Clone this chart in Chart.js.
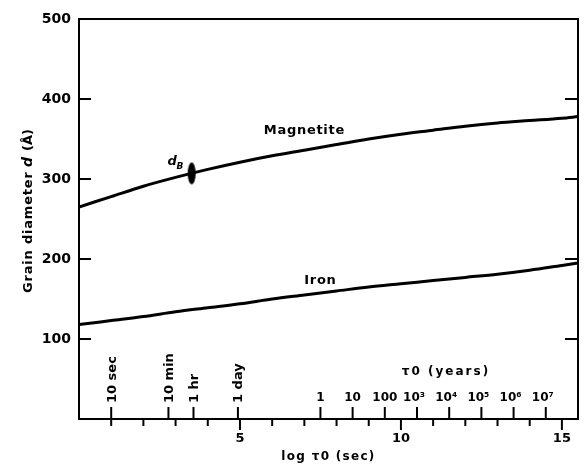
<!DOCTYPE html>
<html>
<head>
<meta charset="utf-8">
<script src="https://cdn.jsdelivr.net/npm/chart.js@4/dist/chart.umd.min.js"></script>
<style>
  html, body { margin: 0; padding: 0; background: #fff; overflow: hidden; }
  canvas { display: block; }
</style>
</head>
<body>
<canvas id="grainChart" width="584" height="467"></canvas>
<script>
// log tau0 (sec) and grain diameter (A)
const logTau    = [0,   1,   2,   3,   4,   5,   6,   7,   8,   9,   10,  11,  12,  13,  14,  15,  15.5];
const magnetite = [265, 278, 291, 302, 312, 321, 329, 336, 343, 350, 356, 361, 366, 370, 373, 376, 378];
const iron      = [118, 123, 128, 134, 139, 144, 150, 155, 160, 165, 169, 173, 177, 181, 186, 192, 195];

const yTicks = [100, 200, 300, 400, 500];
const xTicks = [5, 10, 15];

// extra time marks along the bottom axis
const timeLabels  = ['10 sec', '10 min', '1 hr', '1 day'];
const timeSeconds = [10, 600, 3600, 86400];
const yearLabels  = ['1', '10', '100', '10³', '10⁴', '10⁵', '10⁶', '10⁷'];
const yearValues  = [1, 10, 100, 1e3, 1e4, 1e5, 1e6, 1e7];
const SEC_PER_YEAR = 3.156e7;

const dbMarker = { x: 3.5, y: 307 };
const labelMagnetite = { x: 7.0, y: 360 };
const labelIron = { x: 7.5, y: 173 };
const labelDb = { x: 2.75, y: 317 };

const FONT = '"DejaVu Sans", sans-serif';

// ellipse symbol for the d_B mark
const ellipse = document.createElement('canvas');
ellipse.width = 10; ellipse.height = 24;
(function () {
  const c = ellipse.getContext('2d');
  c.fillStyle = '#000';
  c.beginPath();
  c.ellipse(5, 12, 4, 11, 0, 0, Math.PI * 2);
  c.fill();
})();

const framePlugin = {
  id: 'frame',
  afterDraw(chart) {
    const ctx = chart.ctx, xs = chart.scales.x, ys = chart.scales.y;
    const { left, right, top, bottom } = chart.chartArea;
    ctx.save();
    ctx.strokeStyle = '#000';
    ctx.fillStyle = '#000';
    ctx.lineWidth = 2;
    ctx.strokeRect(left, top, right - left, bottom - top);

    // inward y ticks on both sides
    yTicks.forEach(v => {
      if (v >= 500) return;
      const py = ys.getPixelForValue(v);
      ctx.beginPath();
      ctx.moveTo(left, py); ctx.lineTo(left + 12, py);
      ctx.moveTo(right, py); ctx.lineTo(right - 13, py);
      ctx.stroke();
    });

    // integer ticks below the axis
    for (let v = 1; v <= 15; v++) {
      const px = xs.getPixelForValue(v);
      ctx.beginPath();
      ctx.moveTo(px, bottom);
      ctx.lineTo(px, bottom + (v % 5 === 0 ? 11 : 7));
      ctx.stroke();
    }

    // time marks above the axis
    ctx.font = 'bold 13px ' + FONT;
    ctx.textBaseline = 'middle';
    ctx.textAlign = 'left';
    timeSeconds.forEach((s, i) => {
      const px = xs.getPixelForValue(Math.log10(s));
      ctx.beginPath();
      ctx.moveTo(px, bottom); ctx.lineTo(px, bottom - 12);
      ctx.stroke();
      ctx.save();
      ctx.translate(px, bottom - 16);
      ctx.rotate(-Math.PI / 2);
      ctx.fillText(timeLabels[i], 0, 1);
      ctx.restore();
    });

    ctx.font = 'bold 12px ' + FONT;
    ctx.textAlign = 'center';
    ctx.textBaseline = 'alphabetic';
    yearValues.forEach((yr, i) => {
      const px = xs.getPixelForValue(Math.log10(yr * SEC_PER_YEAR));
      ctx.beginPath();
      ctx.moveTo(px, bottom); ctx.lineTo(px, bottom - 12);
      ctx.stroke();
      const shift = yr >= 1000 ? -3 : 0;
      ctx.fillText(yearLabels[i], px + shift, bottom - 18);
    });

    ctx.letterSpacing = '2px';
    ctx.font = 'bold 12px ' + FONT;
    ctx.textBaseline = 'middle';
    ctx.fillText('τ0 (years)', 446, 372);

    // x axis title
    ctx.letterSpacing = '1.3px';
    ctx.fillText('log τ0 (sec)', (left + right) / 2, 457);

    // curve labels
    ctx.letterSpacing = '0.7px';
    ctx.font = 'bold 13px ' + FONT;
    ctx.fillText('Magnetite', xs.getPixelForValue(labelMagnetite.x), ys.getPixelForValue(labelMagnetite.y));
    ctx.fillText('Iron', xs.getPixelForValue(labelIron.x), ys.getPixelForValue(labelIron.y));

    ctx.letterSpacing = '0px';
    const dx = xs.getPixelForValue(labelDb.x), dy = ys.getPixelForValue(labelDb.y);
    ctx.textAlign = 'left';
    ctx.textBaseline = 'alphabetic';
    ctx.font = 'italic bold 13px ' + FONT;
    ctx.fillText('d', dx, dy);
    ctx.font = 'italic bold 9px ' + FONT;
    ctx.fillText('B', dx + 9, dy + 4);

    // y axis title
    ctx.save();
    ctx.translate(32, 293);
    ctx.rotate(-Math.PI / 2);
    ctx.letterSpacing = '0.8px';
    ctx.font = 'bold 13px ' + FONT;
    ctx.fillText('Grain diameter', 0, 0);
    ctx.font = 'italic bold 14px ' + FONT;
    ctx.letterSpacing = '0px';
    ctx.fillText('d', 126, 0);
    ctx.font = 'bold 13px ' + FONT;
    ctx.fillText('(Å)', 142, 0);
    ctx.restore();

    ctx.restore();
  }
};

new Chart(document.getElementById('grainChart'), {
  type: 'line',
  data: {
    datasets: [
      {
        label: 'Magnetite',
        data: logTau.map((t, i) => ({ x: t, y: magnetite[i] })),
        borderColor: '#000', borderWidth: 3, pointRadius: 0,
        cubicInterpolationMode: 'monotone', fill: false
      },
      {
        label: 'Iron',
        data: logTau.map((t, i) => ({ x: t, y: iron[i] })),
        borderColor: '#000', borderWidth: 3, pointRadius: 0,
        cubicInterpolationMode: 'monotone', fill: false
      },
      {
        label: 'dB',
        data: [dbMarker],
        showLine: false,
        pointStyle: ellipse, pointRadius: 11,
        backgroundColor: '#000', borderColor: '#000'
      }
    ]
  },
  options: {
    responsive: false,
    animation: false,
    layout: { autoPadding: false, padding: { top: 19, right: 6, bottom: 0, left: 0 } },
    plugins: { legend: { display: false }, tooltip: { enabled: false } },
    scales: {
      x: {
        type: 'linear', min: 0, max: 15.5,
        afterBuildTicks: s => { s.ticks = xTicks.map(v => ({ value: v })); },
        afterFit: s => { s.height = 48; s.paddingLeft = 0; s.paddingRight = 0; },
        grid: { display: false, drawTicks: false },
        border: { display: false },
        ticks: {
          color: '#000', padding: 12, maxRotation: 0, autoSkip: false,
          font: { family: FONT, weight: 'bold', size: 13 }
        }
      },
      y: {
        min: 0, max: 500,
        afterBuildTicks: s => { s.ticks = yTicks.map(v => ({ value: v })); },
        afterFit: s => { s.width = 79; s.paddingTop = 0; s.paddingBottom = 0; },
        grid: { display: false, drawTicks: false },
        border: { display: false },
        ticks: {
          color: '#000', padding: 8,
          font: { family: FONT, weight: 'bold', size: 14 }
        }
      }
    }
  },
  plugins: [framePlugin]
});
</script>
</body>
</html>
